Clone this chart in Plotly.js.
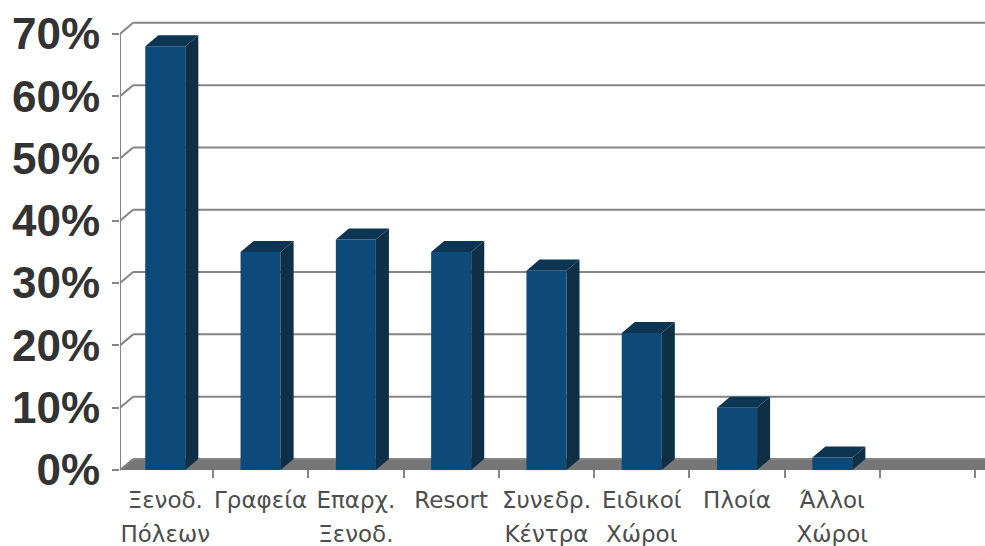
<!DOCTYPE html>
<html>
<head>
<meta charset="utf-8">
<script src="https://cdn.plot.ly/plotly-3.0.1.min.js"></script>
<style>html,body{margin:0;padding:0;background:#fff;overflow:hidden}</style>
</head>
<body>
<div id="chart" style="width:985px;height:546px"></div>
<script>
// Share of each venue type, in percent
const labelsLine1 = ['Ξενοδ.', 'Γραφεία', 'Επαρχ.', 'Resort', 'Συνεδρ.', 'Ειδικοί', 'Πλοία', 'Άλλοι'];
const labelsLine2 = ['Πόλεων', '', 'Ξενοδ.', '', 'Κέντρα', 'Χώροι', '', 'Χώροι'];
const values = [68, 35, 37, 35, 32, 22, 10, 2];
const gridValues = [0, 10, 20, 30, 40, 50, 60, 70];
const gridLabels = ['0%', '10%', '20%', '30%', '40%', '50%', '60%', '70%'];
const categorySlots = [0.5, 1.5, 2.5, 3.5, 4.5, 5.5, 6.5, 7.5, 8.5];

// Axis extents and the pseudo-3D offset of the back wall, in axis units
const xMin = -0.475, xMax = 8.602, yMin = -1.284, yMax = 73.03;
const depthX = 0.137, depthY = 1.77, barWidth = 0.42;
const gridColor = '#858585', floorColor = '#767676';
const frontColor = '#0e4a79', sideColor = '#0f2f47', topColor = '#0c3552';
const indices = values.map((_, i) => i);

const shapes = [];
// Floor, then the wall grid with its slanted lead-in on the left side
shapes.push({type: 'path', layer: 'below', line: {width: 0}, fillcolor: floorColor,
  path: `M${xMin},0 L${xMin + depthX},${depthY} L${xMax},${depthY} L${xMax},0 Z`});
gridValues.forEach(v => {
  const line = {color: gridColor, width: 2};
  shapes.push({type: 'line', layer: 'below', line, x0: xMin, y0: v, x1: xMin + depthX, y1: v + depthY});
  shapes.push({type: 'line', layer: 'below', line, x0: xMin + depthX, y0: v + depthY, x1: xMax, y1: v + depthY});
});
shapes.push({type: 'line', layer: 'below', line: {color: gridColor, width: 2}, x0: xMin, y0: 0, x1: xMin, y1: 70});

const traces = [{
  type: 'bar', x: indices, y: values, width: barWidth, marker: {color: frontColor, line: {width: 0}},
  hoverinfo: 'x+y', name: 'front'
}];
// Side and top faces of each column, derived from its value
values.forEach((v, i) => {
  const r = i + barWidth / 2, l = i - barWidth / 2;
  traces.push({type: 'scatter', mode: 'lines', fill: 'toself', fillcolor: sideColor, line: {width: 0},
    hoverinfo: 'skip', x: [r, r + depthX, r + depthX, r, r], y: [0, depthY, v + depthY, v, 0]});
  traces.push({type: 'scatter', mode: 'lines', fill: 'toself', fillcolor: topColor, line: {width: 0},
    hoverinfo: 'skip', x: [l, l + depthX, r + depthX, r, l], y: [v, v + depthY, v + depthY, v, v]});
});
// Carriers for the overlay axes: slot tick marks and the second label row
traces.push({type: 'scatter', mode: 'none', xaxis: 'x2', x: categorySlots, y: categorySlots.map(() => 0), hoverinfo: 'skip'});
traces.push({type: 'scatter', mode: 'none', xaxis: 'x3', x: indices, y: indices.map(() => 0), hoverinfo: 'skip'});

const labelFont = {family: '"DejaVu Sans", sans-serif', size: 23, color: '#4d4d4d'};
const layout = {
  width: 985, height: 546, showlegend: false, paper_bgcolor: '#fff', plot_bgcolor: '#fff',
  margin: {l: 120, r: 0, t: 15, b: 68}, shapes,
  xaxis: {range: [xMin, xMax], tickmode: 'array', tickvals: indices, ticktext: labelsLine1,
    tickfont: labelFont, ticks: '', showgrid: false, zeroline: false, showline: false, ticklabelstandoff: 6},
  xaxis2: {overlaying: 'x', anchor: 'y', side: 'bottom', range: [xMin, xMax], tickmode: 'array', tickvals: categorySlots,
    ticktext: categorySlots.map(() => ''), ticks: 'inside', ticklen: 8, tickwidth: 2, tickcolor: gridColor,
    showgrid: false, zeroline: false, showline: false},
  xaxis3: {overlaying: 'x', anchor: 'y', side: 'bottom', range: [xMin, xMax], tickmode: 'array', tickvals: indices, ticktext: labelsLine2,
    tickfont: labelFont, ticks: '', showgrid: false, zeroline: false, showline: false, ticklabelstandoff: 40},
  yaxis: {range: [yMin, yMax], tickmode: 'array', tickvals: gridValues, ticktext: gridLabels,
    tickfont: {family: '"Liberation Sans", Arial, sans-serif', size: 44, color: '#333', weight: 700},
    ticks: 'outside', ticklen: 7, tickwidth: 2, tickcolor: gridColor, showgrid: false, zeroline: false, showline: false,
    ticklabelstandoff: 3}
};
Plotly.newPlot('chart', traces, layout, {displayModeBar: false});
</script>
</body>
</html>
